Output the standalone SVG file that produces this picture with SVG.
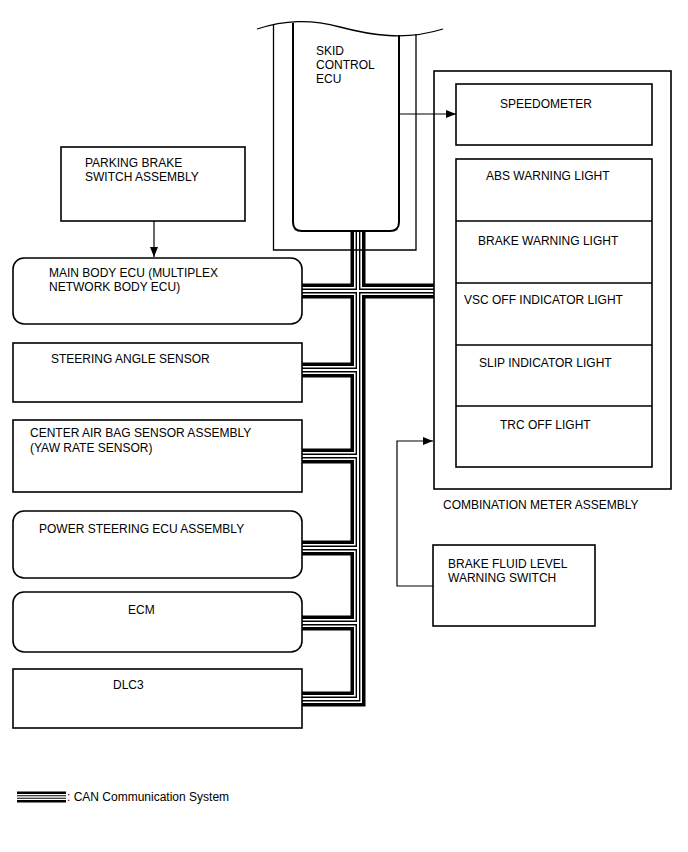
<svg xmlns="http://www.w3.org/2000/svg" xmlns:xlink="http://www.w3.org/1999/xlink" width="688" height="852" viewBox="0 0 688 852">
<style>
text{font-family:"Liberation Sans",Arial,sans-serif;font-size:12px;fill:#000}
.box{fill:none;stroke:#000;stroke-width:1.6}
.thin{fill:none;stroke:#000;stroke-width:1.3}
.arrow{fill:none;stroke:#000;stroke-width:1.2}
.c1{fill:none;stroke:#000;stroke-width:15;stroke-linejoin:miter}
.c2{fill:none;stroke:#fff;stroke-width:8;stroke-linejoin:miter}
.c3{fill:none;stroke:#000;stroke-width:4.8;stroke-linejoin:miter}
.c4{fill:none;stroke:#fff;stroke-width:2;stroke-linejoin:miter}
</style>
<defs>
<marker id="ah" viewBox="0 0 10 8" refX="10" refY="4" markerWidth="10" markerHeight="8" markerUnits="userSpaceOnUse" orient="auto">
<path d="M0,0 L10,4 L0,8 Z" fill="#000"/>
</marker>
<path id="canpath" d="M358,231 V699 H302 M302,291 H434 M302,370 H358 M302,456 H358 M302,548 H358 M302,623 H358"/>
<path id="legpath" d="M17,797 H66"/>
</defs>
<rect width="688" height="852" fill="#fff"/>

<g id="connectors">
<use xlink:href="#canpath" class="c1"/>
<use xlink:href="#canpath" class="c2"/>
<use xlink:href="#canpath" class="c3"/>
<use xlink:href="#canpath" class="c4"/>
<path class="arrow" d="M154,221 V257" marker-end="url(#ah)"/>
<path class="arrow" d="M399,114 H456" marker-end="url(#ah)"/>
<path class="arrow" d="M433,586 H397 V441 H433" marker-end="url(#ah)"/>
</g>

<g id="skid-control-ecu">
<path class="thin" d="M257,29 C285,20 310,19 340,27 S405,41 443,29"/>
<path class="thin" d="M273.5,25 V250 H416 V34"/>
<path fill="none" stroke="#000" stroke-width="2" d="M293,23 V222 Q293,231 302,231 H390 Q399,231 399,222 V35"/>
<text x="316" y="55">SKID</text>
<text x="316" y="69">CONTROL</text>
<text x="316" y="83">ECU</text>
</g>

<g id="parking-brake-switch">
<rect class="box" x="61" y="147" width="184" height="74"/>
<text x="85" y="167">PARKING BRAKE</text>
<text x="85" y="181">SWITCH ASSEMBLY</text>
</g>

<g id="main-body-ecu">
<rect class="box" x="13" y="258" width="289" height="66" rx="11"/>
<text x="49" y="277">MAIN BODY ECU (MULTIPLEX</text>
<text x="49" y="291">NETWORK BODY ECU)</text>
</g>

<g id="steering-angle-sensor">
<rect class="box" x="13" y="343" width="289" height="59"/>
<text x="51" y="363">STEERING ANGLE SENSOR</text>
</g>

<g id="center-air-bag-sensor">
<rect class="box" x="13" y="420" width="289" height="72"/>
<text x="30" y="437">CENTER AIR BAG SENSOR ASSEMBLY</text>
<text x="30" y="452">(YAW RATE SENSOR)</text>
</g>

<g id="power-steering-ecu">
<rect class="box" x="13" y="511" width="289" height="67" rx="11"/>
<text x="39" y="533">POWER STEERING ECU ASSEMBLY</text>
</g>

<g id="ecm">
<rect class="box" x="13" y="592" width="289" height="60" rx="11"/>
<text x="128" y="614">ECM</text>
</g>

<g id="dlc3">
<rect class="box" x="13" y="669" width="289" height="59"/>
<text x="113" y="689">DLC3</text>
</g>

<g id="combination-meter">
<rect class="box" x="434" y="71" width="237" height="418"/>
<text x="443" y="509">COMBINATION METER ASSEMBLY</text>
</g>

<g id="speedometer">
<rect class="box" x="456" y="84" width="196" height="61"/>
<text x="500" y="108">SPEEDOMETER</text>
</g>

<g id="warning-lights">
<rect class="box" x="456" y="159" width="196" height="308"/>
<path class="box" d="M456,221 H652 M456,283 H652 M456,345 H652 M456,406 H652"/>
<text x="486" y="180">ABS WARNING LIGHT</text>
<text x="478" y="245">BRAKE WARNING LIGHT</text>
<text x="464" y="304">VSC OFF INDICATOR LIGHT</text>
<text x="479" y="367">SLIP INDICATOR LIGHT</text>
<text x="500" y="429">TRC OFF LIGHT</text>
</g>

<g id="brake-fluid-level-switch">
<rect class="box" x="433" y="545" width="162" height="81"/>
<text x="448" y="568">BRAKE FLUID LEVEL</text>
<text x="448" y="582">WARNING SWITCH</text>
</g>

<g id="legend">
<use xlink:href="#legpath" class="c1" style="stroke-width:11"/>
<use xlink:href="#legpath" class="c2" style="stroke-width:6"/>
<use xlink:href="#legpath" class="c3" style="stroke-width:3.6"/>
<use xlink:href="#legpath" class="c4" style="stroke-width:1.4"/>
<text x="67" y="801">: CAN Communication System</text>
</g>
</svg>
